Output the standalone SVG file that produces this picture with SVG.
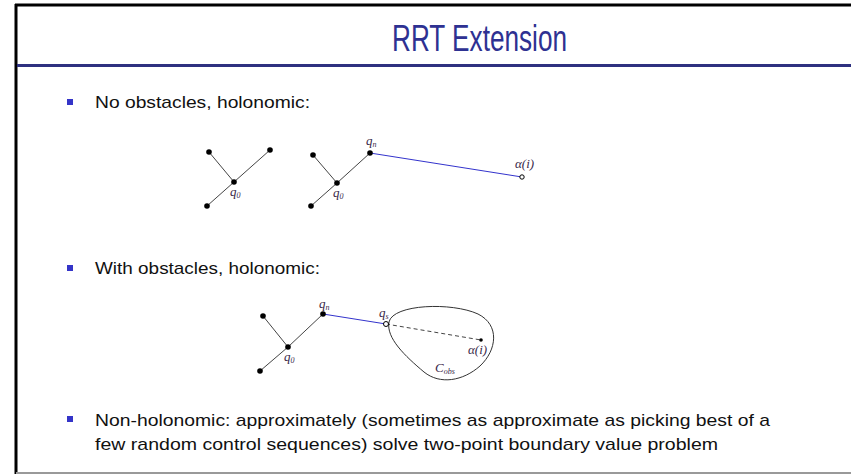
<svg xmlns="http://www.w3.org/2000/svg" width="851" height="474" viewBox="0 0 851 474">
<style>
.title{font-family:"Liberation Sans",Arial,sans-serif;font-size:37px;fill:#2E3192}
.txt{font-family:"Liberation Sans",Arial,sans-serif;font-size:17px;fill:#111}
.bul{fill:#3434C8}
.edge{stroke:#444;stroke-width:1;fill:none}
.blue{stroke:#3333CC;stroke-width:1;fill:none}
.dot{fill:#000}
.open{fill:#fff;stroke:#000;stroke-width:1}
.lbl{font-family:"Liberation Serif","Times New Roman",serif;font-style:italic;font-size:13px;fill:#3a2a4a}
.sub{font-size:8px}
</style>
<rect x="0" y="0" width="851" height="474" fill="#fff"/>
<g id="frame">
<line x1="15" y1="5" x2="851" y2="5" stroke="#000" stroke-width="3"/>
<line x1="16" y1="4" x2="16" y2="474" stroke="#000" stroke-width="3"/>
<line x1="16" y1="473" x2="851" y2="473" stroke="#999" stroke-width="2"/>
<line x1="17" y1="65.5" x2="851" y2="65.5" stroke="#2E3180" stroke-width="3"/>
</g>
<text class="title" x="479.5" y="51" text-anchor="middle" textLength="175" lengthAdjust="spacingAndGlyphs">RRT Extension</text>
<g id="bullets">
<rect class="bul" x="67" y="99" width="6" height="6"/>
<text class="txt" x="95" y="108" textLength="215" lengthAdjust="spacingAndGlyphs">No obstacles, holonomic:</text>
<rect class="bul" x="67" y="265" width="6" height="6"/>
<text class="txt" x="95" y="274" textLength="225" lengthAdjust="spacingAndGlyphs">With obstacles, holonomic:</text>
<rect class="bul" x="67" y="416" width="6" height="6"/>
<text class="txt" x="95" y="426" textLength="675" lengthAdjust="spacingAndGlyphs">Non-holonomic: approximately (sometimes as approximate as picking best of a</text>
<text class="txt" x="95" y="450" textLength="623" lengthAdjust="spacingAndGlyphs">few random control sequences) solve two-point boundary value problem</text>
</g>
<g id="connectors">
<line class="edge" x1="209" y1="152" x2="234" y2="182"/>
<line class="edge" x1="270" y1="150" x2="234" y2="182"/>
<line class="edge" x1="207" y1="206" x2="234" y2="182"/>
<line class="edge" x1="313" y1="155" x2="337" y2="183"/>
<line class="edge" x1="370" y1="153" x2="337" y2="183"/>
<line class="edge" x1="311" y1="206" x2="337" y2="183"/>
<line class="blue" x1="370" y1="153" x2="522" y2="177"/>
<line class="edge" x1="263" y1="316" x2="288" y2="347"/>
<line class="edge" x1="323" y1="314" x2="288" y2="347"/>
<line class="edge" x1="260" y1="371" x2="288" y2="347"/>
<line class="blue" x1="323" y1="314" x2="386" y2="324"/>
<line class="edge" x1="386" y1="324" x2="481" y2="340" stroke-dasharray="4,3"/>
</g>
<g id="tree1">
<circle class="dot" cx="209" cy="152" r="2.8"/>
<circle class="dot" cx="270" cy="150" r="2.8"/>
<circle class="dot" cx="207" cy="206" r="2.8"/>
<circle class="dot" cx="234" cy="182" r="2.8"/>
<text class="lbl" x="230" y="196">q<tspan class="sub" dy="2">0</tspan></text>
</g>
<g id="tree2">
<circle class="dot" cx="313" cy="155" r="2.8"/>
<circle class="dot" cx="311" cy="206" r="2.8"/>
<circle class="dot" cx="337" cy="183" r="2.8"/>
<circle class="dot" cx="370" cy="153" r="2.8"/>
<text class="lbl" x="333" y="197">q<tspan class="sub" dy="2">0</tspan></text>
<text class="lbl" x="366" y="145">q<tspan class="sub" dy="2">n</tspan></text>
</g>
<g id="alpha1">
<circle class="open" cx="522" cy="177" r="2.2"/>
<text class="lbl" x="515" y="168" font-style="normal"><tspan font-style="italic">α</tspan>(<tspan font-style="italic">i</tspan>)</text>
</g>
<g id="tree3">
<circle class="dot" cx="263" cy="316" r="2.8"/>
<circle class="dot" cx="260" cy="371" r="2.8"/>
<circle class="dot" cx="288" cy="347" r="2.8"/>
<circle class="dot" cx="323" cy="314" r="2.8"/>
<text class="lbl" x="284" y="361">q<tspan class="sub" dy="2">0</tspan></text>
<text class="lbl" x="319" y="308">q<tspan class="sub" dy="2">n</tspan></text>
</g>
<g id="obstacle">
<path d="M389,322 C393,304 452,302 478,314 C500,325 497,350 480,366 C463,381 440,385 424,372 C405,356 386,338 389,322 Z" fill="none" stroke="#333" stroke-width="1"/>
<text class="lbl" x="435" y="372">C<tspan class="sub" dy="2">obs</tspan></text>
</g>
<g id="qs">
<circle class="open" cx="386" cy="324" r="2.5"/>
<text class="lbl" x="379" y="317">q<tspan class="sub" dy="2">s</tspan></text>
</g>
<g id="alpha2">
<circle class="dot" cx="481" cy="340" r="1.8"/>
<text class="lbl" x="468" y="354" font-style="normal"><tspan font-style="italic">α</tspan>(<tspan font-style="italic">i</tspan>)</text>
</g>
</svg>
